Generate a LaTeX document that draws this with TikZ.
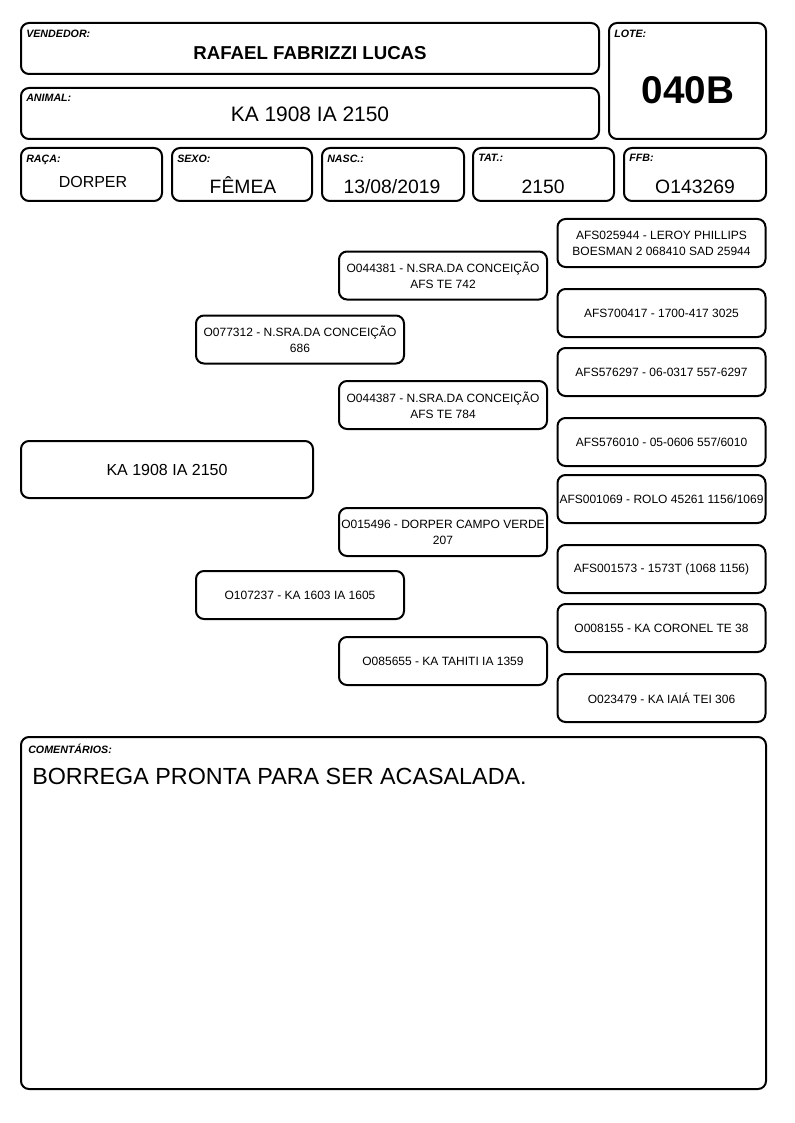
\documentclass[tikz,border=0pt]{standalone}
\usepackage{fontspec}
\setmainfont{Liberation Sans}

\begin{document}
\begin{tikzpicture}[
    x=0.75pt, y=-0.75pt,
    box/.style={draw, line width=1.5pt, rounded corners=6pt, inner sep=0pt},
    tag/.style={anchor=north west, inner sep=0pt, font=\fontsize{8}{9}\selectfont\bfseries\itshape},
    value/.style={anchor=base, inner sep=0pt, font=\fontsize{14.5}{16}\selectfont},
    ped/.style={box, minimum width=156pt, minimum height=36pt, align=center, font=\fontsize{9}{12}\selectfont}
]
\useasboundingbox (0,0) rectangle (794,1123);

% Header boxes
\node[box, minimum width=433.5pt, minimum height=38.25pt] (vendedor) at (310, 48.5) {};
\node[box, minimum width=433.5pt, minimum height=38.25pt] (animal) at (310, 113.5) {};
\node[box, minimum width=117.75pt, minimum height=87pt] (lote) at (687.5, 81) {};
\node[box, minimum width=105.75pt, minimum height=39.75pt] (raca) at (91.5, 174.5) {};
\node[box, minimum width=105pt, minimum height=39.75pt] (sexo) at (242, 174.5) {};
\node[box, minimum width=106.5pt, minimum height=39.75pt] (nasc) at (393, 174.5) {};
\node[box, minimum width=105.75pt, minimum height=39.75pt] (tat) at (543.5, 174.5) {};
\node[box, minimum width=106.5pt, minimum height=39.75pt] (ffb) at (695, 174.5) {};

% Header labels
\node[tag] (vendedorl) at ([shift={(4.5pt,-5.5pt)}]vendedor.north west) {VENDEDOR:};
\node[tag] (animall) at ([shift={(4.5pt,-5.5pt)}]animal.north west) {ANIMAL:};
\node[tag] (lotel) at ([shift={(4.5pt,-5.5pt)}]lote.north west) {LOTE:};
\node[tag] (racal) at ([shift={(4.5pt,-5.5pt)}]raca.north west) {RAÇA:};
\node[tag] (sexol) at ([shift={(4.5pt,-5.5pt)}]sexo.north west) {SEXO:};
\node[tag] (nascl) at ([shift={(4.5pt,-5.5pt)}]nasc.north west) {NASC.:};
\node[tag] (tatl) at ([shift={(4.5pt,-5.5pt)}]tat.north west) {TAT.:};
\node[tag] (ffbl) at ([shift={(4.5pt,-5.5pt)}]ffb.north west) {FFB:};

% Header values (placed on their baselines)
\node[value, font=\fontsize{14}{16}\selectfont\bfseries] (vendedorv) at (310, 59.5) {RAFAEL FABRIZZI LUCAS};
\node[value, font=\fontsize{15.7}{17}\selectfont] (animalv) at (310, 122) {KA 1908 IA 2150};
\node[value, font=\fontsize{29}{31}\selectfont\bfseries] (lotev) at (688, 103.5) {040B};
\node[value, font=\fontsize{12}{14}\selectfont] (racav) at (93, 188) {DORPER};
\node[value] (sexov) at (243, 193.5) {FÊMEA};
\node[value] (nascv) at (392, 193.5) {13/08/2019};
\node[value] (tatv) at (543, 193.5) {2150};
\node[value] (ffbv) at (695, 193.5) {O143269};

% Pedigree
\node[box, minimum width=219pt, minimum height=42.75pt, font=\fontsize{12}{14}\selectfont] (kid) at (167, 469.5) {KA 1908 IA 2150};

\node[ped] (p) at (300, 339.5) {O077312 - N.SRA.DA CONCEIÇÃO\\686};
\node[ped] (m) at (300, 595) {O107237 - KA 1603 IA 1605};

\node[ped] (pp) at (443, 275.5) {O044381 - N.SRA.DA CONCEIÇÃO\\AFS TE 742};
\node[ped] (pm) at (443, 405) {O044387 - N.SRA.DA CONCEIÇÃO\\AFS TE 784};
\node[ped] (mp) at (443, 532) {O015496 - DORPER CAMPO VERDE\\207};
\node[ped] (mm) at (443, 661) {O085655 - KA TAHITI IA 1359};

\node[ped] (ppp) at (661.5, 243) {AFS025944 - LEROY PHILLIPS\\BOESMAN 2 068410 SAD 25944};
\node[ped] (ppm) at (661.5, 313) {AFS700417 - 1700-417 3025};
\node[ped] (pmp) at (661.5, 372) {AFS576297 - 06-0317 557-6297};
\node[ped] (pmm) at (661.5, 442) {AFS576010 - 05-0606 557/6010};
\node[ped] (mpp) at (661.5, 499) {AFS001069 - ROLO 45261 1156/1069};
\node[ped] (mpm) at (661.5, 569) {AFS001573 - 1573T (1068 1156)};
\node[ped] (mmp) at (661.5, 628) {O008155 - KA CORONEL TE 38};
\node[ped] (mmm) at (661.5, 698) {O023479 - KA IAIÁ TEI 306};

% Comments
\node[box, minimum width=558.75pt, minimum height=264pt] (comentarios) at (393.5, 913) {};
\node[tag] (comentariosl) at ([shift={(6pt,-5.5pt)}]comentarios.north west) {COMENTÁRIOS:};
\node[value, anchor=base west, font=\fontsize{17.5}{19}\selectfont] (comentariosv) at (32, 784) {BORREGA PRONTA PARA SER ACASALADA.};

\end{tikzpicture}
\end{document}
